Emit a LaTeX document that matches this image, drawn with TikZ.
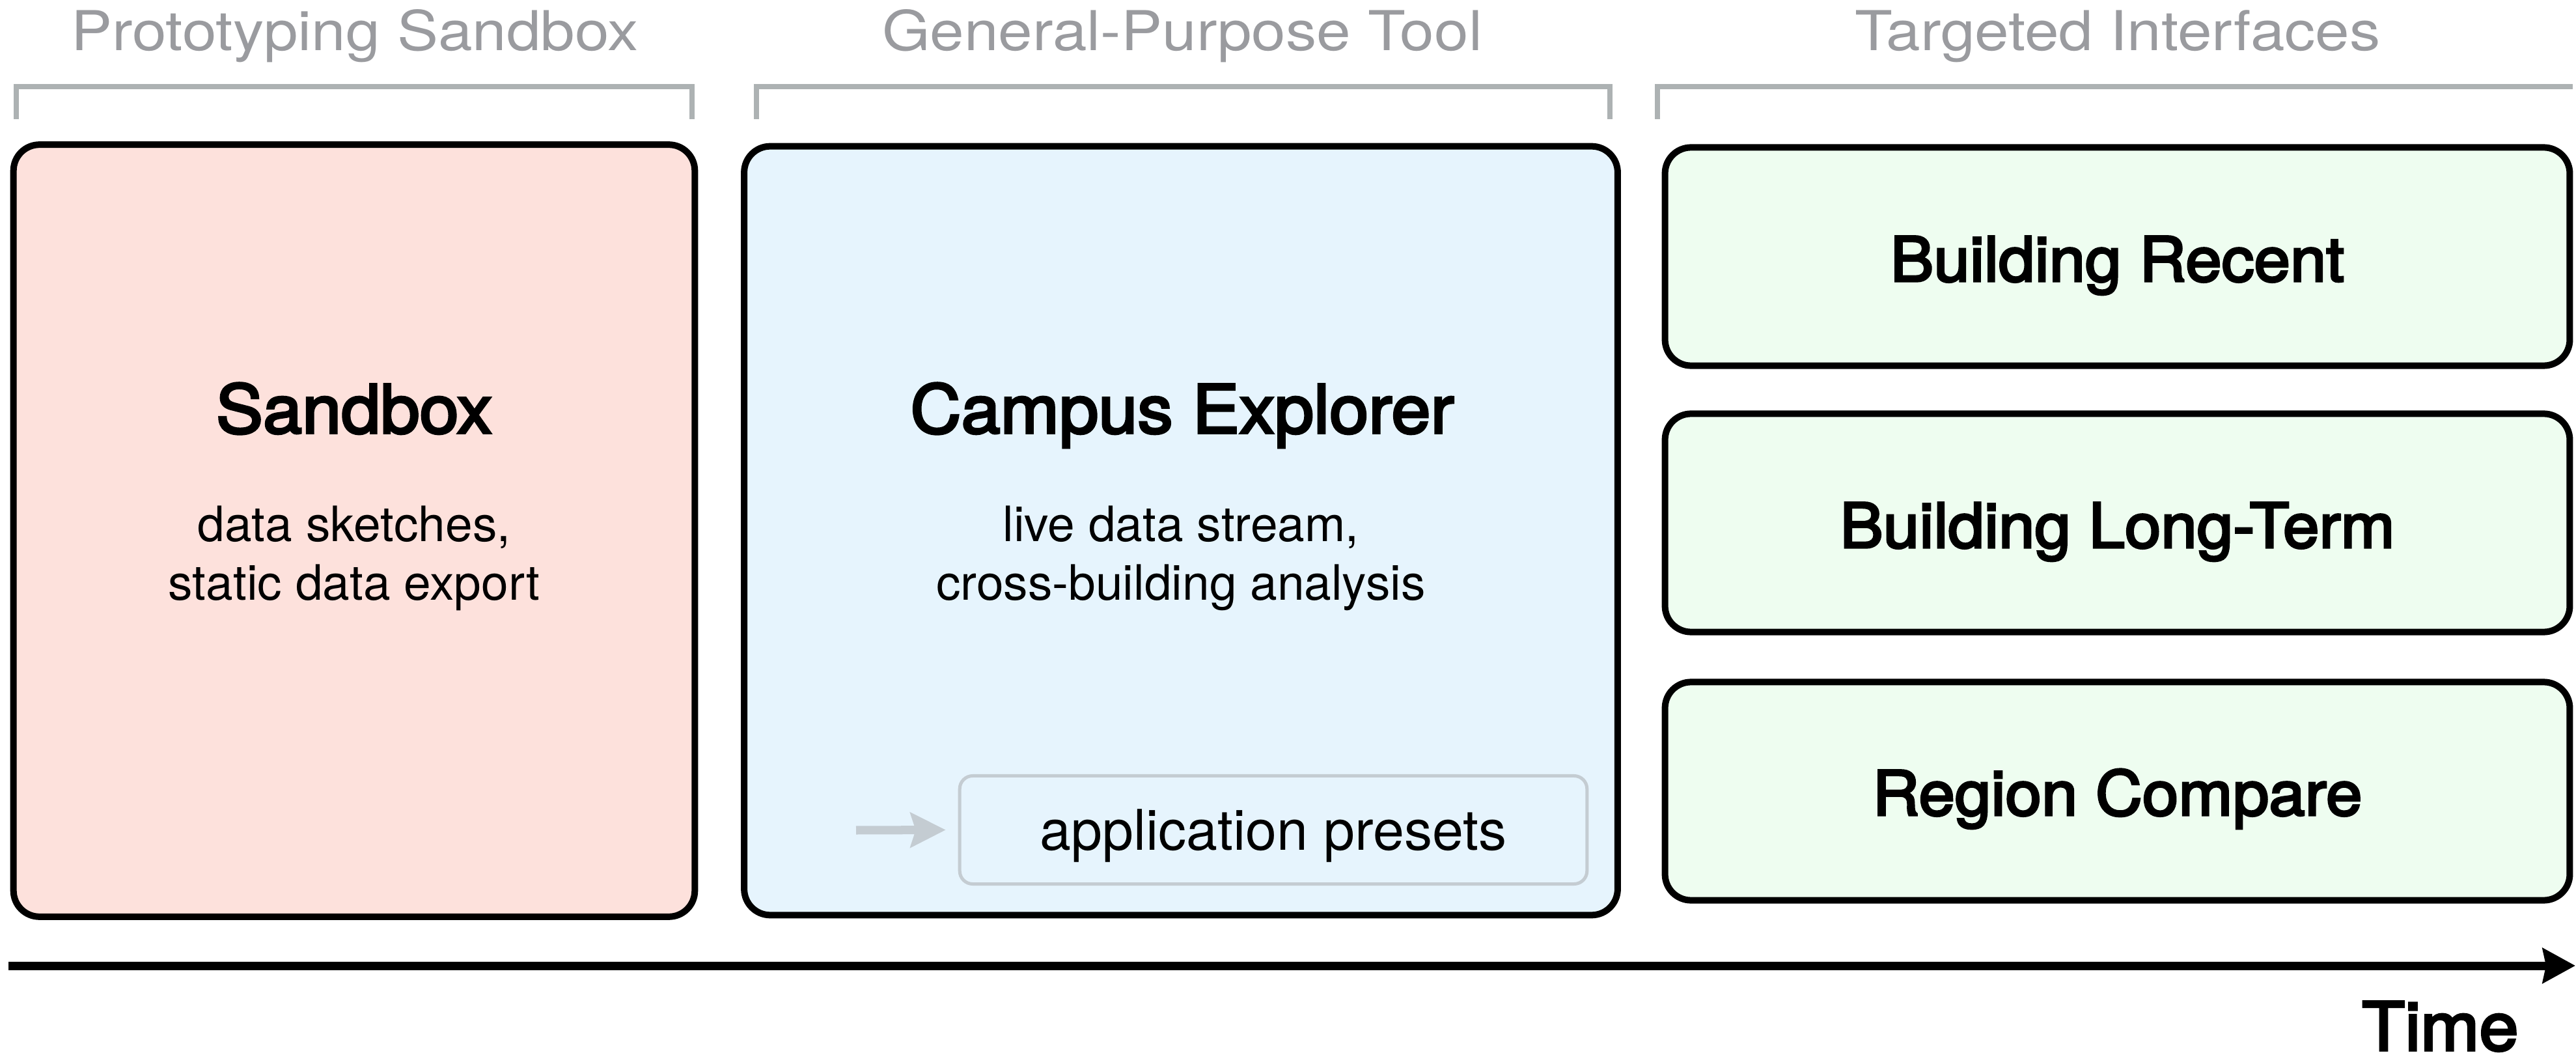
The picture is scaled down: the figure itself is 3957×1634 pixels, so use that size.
\documentclass[tikz,border=0pt]{standalone}
\usepackage{fontspec}
\setmainfont{TeX Gyre Heros}
\newfontfamily\headfont[FakeStretch=1.12]{TeX Gyre Heros}
\newfontfamily\medfont[FakeStretch=1.05, FakeBold=3.5]{TeX Gyre Heros}
\usepackage{tikz}
\usetikzlibrary{arrows.meta}

\definecolor{sandfill}{HTML}{FDE1DC}
\definecolor{explfill}{HTML}{E6F4FD}
\definecolor{ifacefill}{HTML}{EEFDF0}
\definecolor{headgray}{HTML}{9A9B9F}
\definecolor{brackgray}{HTML}{ADB2B3}
\definecolor{presetgray}{HTML}{C4CCD2}

\begin{document}
\begin{tikzpicture}[x=0.01cm, y=-0.01cm,
		stage/.style={draw=black, line width=0.1cm, rounded corners=0.4cm, inner sep=0pt},
		iface/.style={stage, fill=ifacefill, minimum width=13.89cm, minimum height=3.35cm},
		header/.style={text=headgray, font=\headfont\fontsize{24}{29}\selectfont, anchor=base},
		bracket/.style={draw=brackgray, line width=0.08cm},
		title/.style={font=\medfont\fontsize{29.3}{35}\selectfont, anchor=base},
		ifacetitle/.style={font=\medfont\fontsize{27}{32}\selectfont, anchor=base},
		body/.style={font=\fontsize{21.3}{25.6}\selectfont, align=center, inner sep=0pt}]
		\useasboundingbox (0,0) rectangle (3957,1634);
		% headers and brackets
		\node[header] (hproto) at (545,78) {Prototyping Sandbox};
		\node[header] (hgeneral) at (1816,78) {General-Purpose Tool};
		\node[header] (htarget) at (3253,78) {Targeted Interfaces};
		\draw[bracket] (25,183) |- (1063,133) -- (1063,183);
		\draw[bracket] (1162,183) |- (2473,133) -- (2473,183);
		\draw[bracket] (2546,183) |- (3952,133);
		% stages
		\node[stage, fill=sandfill, minimum width=10.46cm, minimum height=11.85cm] (sandbox) at (544,815) {};
		\node[title] (sandboxtitle) at (544,665) {Sandbox};
		\node[body] (sandboxbody) at (544,857) {data sketches,\\static data export};
		\node[stage, fill=explfill, minimum width=13.41cm, minimum height=11.8cm] (explorer) at (1814,815) {};
		\node[title] (explorertitle) at (1816,665) {Campus Explorer};
		\node[body] (explorerbody) at (1814,857) {live data stream,\\cross-building analysis};
		\node[stage, draw=presetgray, line width=0.05cm, rounded corners=0.2cm, fill=explfill,
			minimum width=9.63cm, minimum height=1.66cm] (presets) at (1956,1274.5) {};
		\node[anchor=base, font=\fontsize{24.5}{29}\selectfont] (presetslabel) at (1956,1305) {application presets};
		\coordinate (presetsfrom) at (1315,1275);
		\draw[presetgray, line width=0.13cm, -{Stealth[length=0.54cm, width=0.53cm, inset=0.08cm]}]
			(presetsfrom) -- ([xshift=-0.19cm]presets.west);
		\node[iface] (recent) at (3252.5,394) {};
		\node[ifacetitle] (recentlabel) at (3252.5,432) {Building Recent};
		\node[iface] (longterm) at (3252.5,803) {};
		\node[ifacetitle] (longtermlabel) at (3252.5,841) {Building Long-Term};
		\node[iface] (compare) at (3252.5,1215) {};
		\node[ifacetitle] (comparelabel) at (3252.5,1252) {Region Compare};
		% time axis
		\coordinate (tstart) at (13,1483);
		\coordinate (tend) at (3956,1483);
		\draw[line width=0.13cm, -{Stealth[length=0.5cm, width=0.53cm, inset=0.05cm]}] (tstart) -- (tend);
		\node[font=\medfont\fontsize{29.3}{35}\selectfont, anchor=base east] (time) at (3881,1613) {Time};
	\end{tikzpicture}
\end{document}
